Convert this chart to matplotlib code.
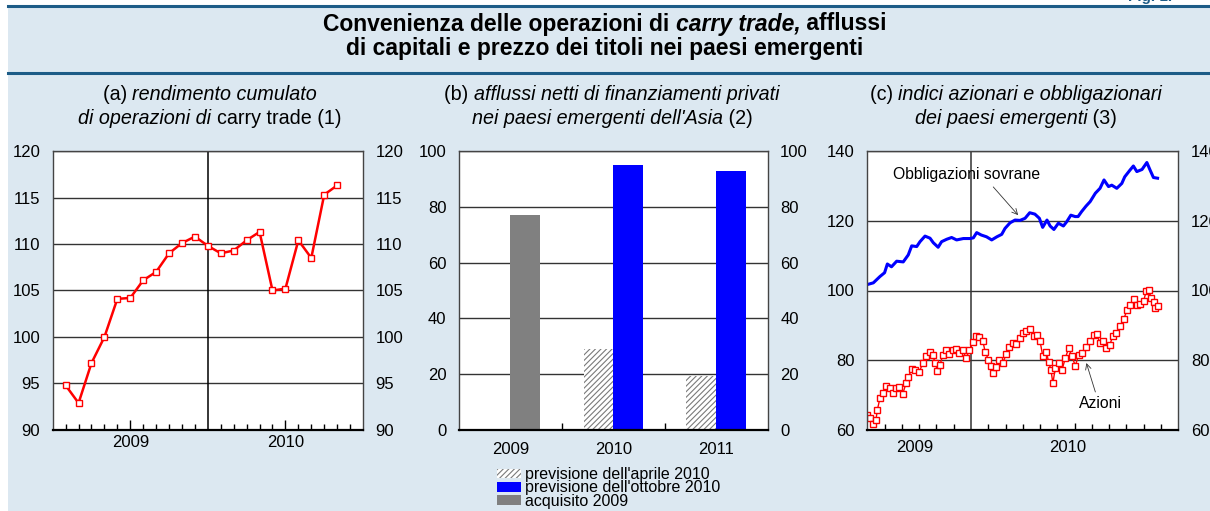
import numpy as np
import matplotlib
matplotlib.use("Agg")
import matplotlib.pyplot as plt
from matplotlib.patches import Rectangle
from matplotlib.lines import Line2D

plt.rcParams['font.family'] = ['Liberation Sans', 'DejaVu Sans']
plt.rcParams['hatch.linewidth'] = 0.8

SFONDO = '#dce8f1'
BLU_SCURO = '#1d5c87'
W, H = 1210, 511

# (a) rendimento cumulato carry trade, fine mese (mesi da gen 2009)
a_mese = np.arange(1, 23)
a_valori = [94.8, 92.9, 97.2, 100.0, 104.1, 104.2, 106.1, 107.0, 109.0, 110.1, 110.8,
            109.8, 109.0, 109.3, 110.4, 111.3, 105.0, 105.2, 110.4, 108.5, 115.3, 116.3]

# (b) afflussi netti, miliardi di dollari
b_anni = ['2009', '2010', '2011']
b_aprile = [np.nan, 29.2, 19.3]
b_ottobre = [np.nan, 95.0, 92.8]
b_acquisito = [76.9, np.nan, np.nan]

# (c) indici (mesi da lug 2009)
c_obbl_mese = [0.0, 0.35, 0.73, 1.0, 1.16, 1.4, 1.7, 2.08, 2.37, 2.57, 2.86, 3.05, 3.34, 3.63,
               3.82, 4.1, 4.3, 4.6, 4.88, 5.17, 5.56, 5.95, 6.14, 6.33, 6.6, 6.9, 7.2, 7.5,
               7.78, 7.97, 8.26, 8.55, 8.84, 9.13, 9.4, 9.7, 9.96, 10.15, 10.4, 10.58, 10.8,
               11.06, 11.35, 11.54, 11.78, 12.03, 12.2, 12.4, 12.66, 12.9, 13.2, 13.47, 13.7,
               13.96, 14.15, 14.44, 14.73, 14.9, 15.2, 15.4, 15.6, 15.9, 16.18, 16.37, 16.56, 16.8]
c_obbl = [101.7, 102.2, 104.0, 105.1, 107.6, 106.8, 108.4, 108.2, 110.2, 112.8, 112.6, 114.0,
          115.6, 115.0, 113.7, 112.4, 114.0, 114.7, 115.2, 114.5, 114.9, 114.9, 115.1, 116.6,
          115.9, 115.4, 114.5, 115.4, 116.1, 117.8, 119.4, 120.2, 120.1, 120.7, 122.3, 121.9,
          120.7, 118.1, 120.2, 118.5, 117.5, 119.3, 118.5, 119.7, 121.6, 121.2, 121.2, 122.6,
          124.2, 125.5, 127.9, 129.3, 131.7, 129.8, 130.2, 129.3, 130.7, 132.6, 134.5, 135.7,
          134.1, 134.7, 136.7, 134.5, 132.4, 132.2]
c_az_mese = [0.0, 0.15, 0.35, 0.5, 0.58, 0.73, 0.89, 1.08, 1.31, 1.5, 1.66, 1.86, 2.05, 2.24,
             2.38, 2.57, 2.76, 3.0, 3.2, 3.4, 3.6, 3.79, 3.92, 4.06, 4.21, 4.37, 4.56, 4.75,
             4.95, 5.14, 5.33, 5.53, 5.72, 5.91, 6.1, 6.3, 6.49, 6.69, 6.82, 7.01, 7.15, 7.3,
             7.46, 7.65, 7.85, 8.04, 8.23, 8.43, 8.62, 8.81, 9.0, 9.2, 9.43, 9.62, 9.82, 10.0,
             10.16, 10.36, 10.49, 10.63, 10.74, 10.88, 11.07, 11.27, 11.46, 11.65, 11.84, 12.04,
             12.23, 12.43, 12.68, 12.91, 13.1, 13.3, 13.45, 13.64, 13.84, 14.03, 14.22, 14.42,
             14.61, 14.84, 15.03, 15.23, 15.42, 15.61, 15.81, 16.0, 16.15, 16.29, 16.43, 16.58,
             16.68, 16.81]
c_azioni = [64.3, 63.3, 61.7, 62.9, 65.7, 69.1, 70.5, 72.6, 72.0, 70.5, 72.0, 72.4, 70.3, 73.4,
            75.3, 77.4, 77.2, 76.5, 79.1, 81.1, 82.5, 81.5, 79.3, 77.0, 78.7, 81.5, 83.0, 81.8,
            83.0, 83.2, 82.2, 82.8, 80.6, 83.0, 85.1, 87.0, 86.6, 85.4, 82.5, 80.1, 78.4, 76.3,
            78.0, 80.1, 79.3, 81.8, 83.9, 84.9, 84.7, 86.3, 87.9, 88.5, 88.9, 87.0, 87.3, 85.4,
            81.1, 82.5, 79.6, 77.2, 73.4, 77.7, 79.1, 77.2, 80.6, 83.4, 81.2, 78.4, 81.5, 82.2,
            83.9, 85.4, 87.3, 87.6, 84.9, 85.6, 83.4, 84.4, 87.0, 87.8, 89.7, 91.8, 94.3, 95.9,
            97.5, 95.9, 96.2, 97.1, 100.0, 100.2, 97.8, 96.6, 94.9, 95.6]

fig = plt.figure(figsize=(W / 100, H / 100), dpi=100, facecolor='white')
fig.add_artist(Rectangle((8 / W, 0), 1 - 8 / W, 1 - 6 / H, transform=fig.transFigure,
                         facecolor=SFONDO, edgecolor='none', zorder=-10))
for ypx in (6.5, 73):
    fig.add_artist(Line2D([8 / W, 1], [1 - ypx / H] * 2, color=BLU_SCURO, lw=2.2))
fig.text(1128 / W, 1 - 1.5 / H, 'Fig. 1.', color=BLU_SCURO, fontsize=11, fontweight='bold',
         va='baseline')


def testo_misto(xc, ypx, parti, size, weight='normal'):
    # parti: lista di (testo, stile) centrata in xc (pixel)
    r = fig.canvas.get_renderer()
    objs = [fig.text(0, 1 - ypx / H, t, fontsize=size, style=s, fontweight=weight,
                     va='center') for t, s in parti]
    larg = [o.get_window_extent(r).width for o in objs]
    x = xc - sum(larg) / 2
    for o, w in zip(objs, larg):
        o.set_x(x / W)
        x += w


testo_misto(605, 24, [('Convenienza delle operazioni di ', 'normal'), ('carry trade,', 'italic'),
                      (' afflussi', 'normal')], 16.5, 'bold')
testo_misto(605, 49, [('di capitali e prezzo dei titoli nei paesi emergenti', 'normal')], 16.5, 'bold')

testo_misto(210, 94, [('(a) ', 'normal'), ('rendimento cumulato', 'italic')], 14.2)
testo_misto(210, 118, [('di operazioni di ', 'italic'), ('carry trade (1)', 'normal')], 14.2)
testo_misto(612, 94, [('(b) ', 'normal'), ('afflussi netti di finanziamenti privati', 'italic')], 14.2)
testo_misto(612, 118, [("nei paesi emergenti dell'Asia", 'italic'), (' (2)', 'normal')], 14.2)
testo_misto(1016, 94, [('(c) ', 'normal'), ('indici azionari e obbligazionari', 'italic')], 14.2)
testo_misto(1016, 118, [('dei paesi emergenti', 'italic'), (' (3)', 'normal')], 14.2)


def nuovo_ax(l, r, t=151, b=430):
    return fig.add_axes([l / W, 1 - b / H, (r - l) / W, (b - t) / H])


def stile(ax, ylim, yticks):
    ax.set_facecolor('white')
    ax.set_ylim(ylim)
    ax.set_yticks(yticks)
    ax.grid(axis='y', color='#333333', lw=1)
    ax.set_axisbelow(True)
    ax.tick_params(axis='y', which='both', left=False, right=False, labelleft=True,
                   labelright=True, pad=5.5, labelsize=12)
    ax.tick_params(axis='x', which='both', direction='in', top=False, width=1, labelsize=12)
    ax.tick_params(axis='x', which='minor', length=4.5)
    for s in ax.spines.values():
        s.set_color('#444444')
        s.set_linewidth(1)
    ax.spines['bottom'].set_color('black')
    ax.spines['bottom'].set_linewidth(1.6)


# (a)
ax1 = nuovo_ax(52.7, 363)
stile(ax1, (90, 120), range(90, 121, 5))
ax1.set_xlim(0, 24)
ax1.set_xticks([6, 18], ['2009', '2010'])
ax1.set_xticks([m for m in range(1, 24) if m not in (6, 12, 18)], minor=True)
ax1.tick_params(axis='x', which='major', length=7, pad=3.5)
ax1.axvline(12, color='black', lw=1.1)
ax1.plot(a_mese, a_valori, color='red', lw=1.8, marker='s', ms=4.5, mfc='white',
         mec='red', mew=1)

# (b)
ax2 = nuovo_ax(459, 767.7)
stile(ax2, (0, 100), range(0, 101, 20))
xb = np.arange(len(b_anni))
lb = 0.29
ax2.bar(xb - lb, b_aprile, lb, align='edge', facecolor='white', edgecolor='#7a7a7a',
        lw=0, hatch='//////', label="previsione dell'aprile 2010")
ax2.bar(xb, b_ottobre, lb, align='edge', color='#0000ff', label="previsione dell'ottobre 2010")
ax2.bar(xb, b_acquisito, lb, align='edge', color='#808080', label='acquisito 2009')
ax2.set_xlim(-0.5, 2.5)
ax2.set_xticks(xb, b_anni)
ax2.set_xticks([0.5, 1.5], minor=True)
ax2.tick_params(axis='x', which='major', length=0, pad=9)
ax2.tick_params(axis='x', which='minor', length=5)
fig.legend(loc='upper left', bbox_to_anchor=(497 / W, 1 - 467 / H), frameon=False,
           fontsize=11.5, handlelength=1.5, handleheight=0.55, labelspacing=-0.1,
           handletextpad=0.25, borderpad=0, borderaxespad=0)

# (c)
ax3 = nuovo_ax(867.3, 1178.3)
stile(ax3, (60, 140), range(60, 141, 20))
ax3.set_xlim(0, 18)
ax3.set_xticks([2.75, 11.6], ['2009', '2010'])
ax3.set_xticks([m for m in range(1, 18) if m not in (6, 12)], minor=True)
ax3.tick_params(axis='x', which='major', length=0, pad=7)
ax3.vlines(12, 0, 0.025, transform=ax3.get_xaxis_transform(), color='black', lw=1)
ax3.axvline(6, color='#333333', lw=1.1)
ax3.plot(c_obbl_mese, c_obbl, color='#0000ff', lw=2.2)
ax3.plot(c_az_mese, c_azioni, color='red', lw=1, marker='s', ms=3.8, mfc='white',
         mec='red', mew=1)
ax3.text(5.72, 133.4, 'Obbligazioni sovrane', ha='center', va='center', fontsize=11.3)
ax3.annotate('', xy=(8.73, 121.6), xytext=(7.29, 129.7),
             arrowprops=dict(arrowstyle='->', lw=0.6, color='#333333', shrinkA=0, shrinkB=0))
ax3.text(13.49, 67.7, 'Azioni', ha='center', va='center', fontsize=11.3)
ax3.annotate('', xy=(12.68, 79.2), xytext=(13.2, 70.9),
             arrowprops=dict(arrowstyle='->', lw=0.6, color='#333333', shrinkA=0, shrinkB=0))

fig.savefig('out.png', dpi=100, facecolor=fig.get_facecolor())
